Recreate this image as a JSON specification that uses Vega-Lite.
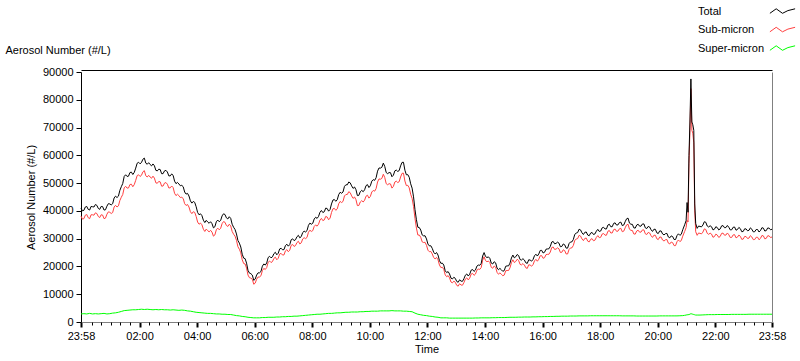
{
"$schema":"https://vega.github.io/schema/vega-lite/v6.json",
"width":691,"height":250,
"autosize":{"type":"none"},
"padding":{"left":81,"top":72,"right":28,"bottom":39},
"background":"white",
"config":{"view":{"stroke":null},"font":"Liberation Sans","axis":{"labelFont":"Liberation Sans","titleFont":"Liberation Sans","labelFontSize":11,"titleFontSize":11,"titleFontWeight":"normal","labelColor":"black","titleColor":"black","grid":false}},
"data":{"values":[
{"m":0,"t":41000,"s":38100,"p":2900},{"m":6,"t":40200,"s":37200,"p":3000},{"m":12,"t":41600,"s":38700,"p":2900},{"m":18,"t":40300,"s":37200,"p":3100},{"m":24,"t":41500,"s":38600,"p":2900},{"m":30,"t":42300,"s":39300,"p":3000},{"m":36,"t":40900,"s":38000,"p":2900},{"m":42,"t":41600,"s":38600,"p":3000},{"m":48,"t":40300,"s":37200,"p":3100},{"m":54,"t":41700,"s":38800,"p":2900},
{"m":60,"t":42500,"s":39500,"p":3000},{"m":66,"t":42600,"s":39400,"p":3200},{"m":72,"t":45300,"s":42000,"p":3300},{"m":78,"t":45300,"s":41800,"p":3500},{"m":84,"t":48700,"s":44900,"p":3800},{"m":90,"t":52400,"s":48300,"p":4100},{"m":96,"t":52400,"s":48200,"p":4200},{"m":102,"t":53800,"s":49500,"p":4300},{"m":108,"t":53100,"s":48700,"p":4400},{"m":114,"t":55400,"s":51000,"p":4400},
{"m":120,"t":57500,"s":53000,"p":4500},{"m":126,"t":57400,"s":52800,"p":4600},{"m":132,"t":59000,"s":54500,"p":4500},{"m":138,"t":56800,"s":52200,"p":4600},{"m":144,"t":56700,"s":52200,"p":4500},{"m":150,"t":56900,"s":52500,"p":4400},{"m":156,"t":54600,"s":50100,"p":4500},{"m":162,"t":55000,"s":50600,"p":4400},{"m":168,"t":53400,"s":48900,"p":4500},{"m":174,"t":54400,"s":50000,"p":4400},
{"m":180,"t":54000,"s":49600,"p":4400},{"m":186,"t":52600,"s":48300,"p":4300},{"m":192,"t":52800,"s":48400,"p":4400},{"m":198,"t":49800,"s":45500,"p":4300},{"m":204,"t":49700,"s":45500,"p":4200},{"m":210,"t":49200,"s":44900,"p":4300},{"m":216,"t":46800,"s":42600,"p":4200},{"m":222,"t":46300,"s":42300,"p":4000},{"m":228,"t":43600,"s":39700,"p":3900},{"m":234,"t":43400,"s":39700,"p":3700},
{"m":240,"t":41500,"s":38000,"p":3500},{"m":246,"t":38600,"s":35200,"p":3400},{"m":252,"t":38300,"s":35000,"p":3300},{"m":258,"t":35800,"s":32600,"p":3200},{"m":264,"t":36000,"s":32900,"p":3100},{"m":270,"t":36100,"s":33000,"p":3100},{"m":276,"t":33900,"s":30900,"p":3000},{"m":282,"t":36100,"s":33200,"p":2900},{"m":288,"t":36100,"s":33200,"p":2900},{"m":294,"t":38200,"s":35400,"p":2800},
{"m":300,"t":38700,"s":35900,"p":2800},{"m":306,"t":37100,"s":34400,"p":2700},{"m":312,"t":37300,"s":34600,"p":2700},{"m":318,"t":34100,"s":31600,"p":2500},{"m":324,"t":31700,"s":29400,"p":2300},{"m":330,"t":28400,"s":26200,"p":2200},{"m":336,"t":24400,"s":22400,"p":2000},{"m":342,"t":22800,"s":20900,"p":1900},{"m":348,"t":18600,"s":16900,"p":1700},{"m":354,"t":17400,"s":15800,"p":1600},
{"m":360,"t":15000,"s":13600,"p":1500},{"m":366,"t":16900,"s":15400,"p":1500},{"m":372,"t":17700,"s":16200,"p":1500},{"m":378,"t":20100,"s":18500,"p":1600},{"m":384,"t":20500,"s":18900,"p":1600},{"m":390,"t":23200,"s":21500,"p":1700},{"m":396,"t":23100,"s":21400,"p":1700},{"m":402,"t":24600,"s":22900,"p":1700},{"m":408,"t":24200,"s":22400,"p":1800},{"m":414,"t":26300,"s":24500,"p":1800},
{"m":420,"t":26000,"s":24100,"p":1900},{"m":426,"t":27500,"s":25600,"p":1900},{"m":432,"t":27300,"s":25300,"p":2000},{"m":438,"t":29600,"s":27600,"p":2000},{"m":444,"t":29300,"s":27200,"p":2100},{"m":450,"t":30700,"s":28600,"p":2100},{"m":456,"t":30300,"s":28100,"p":2200},{"m":462,"t":32200,"s":29900,"p":2300},{"m":468,"t":32400,"s":30000,"p":2400},{"m":474,"t":34800,"s":32300,"p":2500},
{"m":480,"t":35200,"s":32600,"p":2600},{"m":486,"t":37100,"s":34400,"p":2700},{"m":492,"t":37300,"s":34500,"p":2800},{"m":498,"t":39500,"s":36700,"p":2800},{"m":504,"t":39400,"s":36500,"p":2900},{"m":510,"t":41000,"s":38000,"p":3000},{"m":516,"t":39900,"s":36800,"p":3100},{"m":522,"t":42500,"s":39400,"p":3100},{"m":528,"t":44100,"s":40900,"p":3200},{"m":534,"t":44000,"s":40700,"p":3300},
{"m":540,"t":46700,"s":43400,"p":3300},{"m":546,"t":46800,"s":43400,"p":3400},{"m":552,"t":49400,"s":45900,"p":3500},{"m":558,"t":50400,"s":46900,"p":3500},{"m":564,"t":49000,"s":45400,"p":3600},{"m":570,"t":48600,"s":45000,"p":3600},{"m":576,"t":45500,"s":41900,"p":3600},{"m":582,"t":46900,"s":43200,"p":3700},{"m":588,"t":46900,"s":43200,"p":3700},{"m":594,"t":49100,"s":45300,"p":3800},
{"m":600,"t":48400,"s":44600,"p":3800},{"m":606,"t":50700,"s":46800,"p":3900},{"m":612,"t":51000,"s":47100,"p":3900},{"m":618,"t":54300,"s":50400,"p":3900},{"m":624,"t":55400,"s":51400,"p":4000},{"m":630,"t":57200,"s":53200,"p":4000},{"m":636,"t":53800,"s":49800,"p":4000},{"m":642,"t":53800,"s":49800,"p":4000},{"m":648,"t":52300,"s":48200,"p":4100},{"m":654,"t":54400,"s":50400,"p":4000},
{"m":660,"t":54200,"s":50200,"p":4000},{"m":666,"t":56200,"s":52200,"p":4000},{"m":672,"t":57500,"s":53600,"p":3900},{"m":678,"t":53000,"s":49100,"p":3900},{"m":684,"t":52100,"s":48300,"p":3800},{"m":690,"t":48200,"s":44500,"p":3700},{"m":696,"t":40500,"s":37300,"p":3200},{"m":702,"t":34100,"s":31300,"p":2800},{"m":708,"t":33100,"s":30500,"p":2600},{"m":714,"t":31000,"s":28600,"p":2400},
{"m":720,"t":29900,"s":27600,"p":2300},{"m":726,"t":27400,"s":25300,"p":2100},{"m":732,"t":26500,"s":24500,"p":2000},{"m":738,"t":24500,"s":22700,"p":1800},{"m":744,"t":24100,"s":22400,"p":1700},{"m":750,"t":21100,"s":19600,"p":1500},{"m":756,"t":20500,"s":19000,"p":1500},{"m":762,"t":17800,"s":16300,"p":1500},{"m":768,"t":17300,"s":15900,"p":1400},{"m":774,"t":15500,"s":14100,"p":1400},
{"m":780,"t":15700,"s":14300,"p":1400},{"m":786,"t":14300,"s":12900,"p":1400},{"m":792,"t":14700,"s":13300,"p":1400},{"m":798,"t":15600,"s":14200,"p":1400},{"m":804,"t":17300,"s":15900,"p":1400},{"m":810,"t":17200,"s":15800,"p":1400},{"m":816,"t":18900,"s":17500,"p":1400},{"m":822,"t":18700,"s":17250,"p":1450},{"m":828,"t":20500,"s":19050,"p":1450},{"m":834,"t":21100,"s":19600,"p":1500},
{"m":840,"t":25000,"s":23500,"p":1500},{"m":846,"t":23200,"s":21700,"p":1500},{"m":852,"t":22900,"s":21400,"p":1500},{"m":858,"t":20900,"s":19350,"p":1550},{"m":864,"t":21300,"s":19750,"p":1550},{"m":870,"t":18800,"s":17200,"p":1600},{"m":876,"t":18800,"s":17200,"p":1600},{"m":882,"t":18500,"s":16900,"p":1600},{"m":888,"t":20200,"s":18550,"p":1650},{"m":894,"t":21200,"s":19500,"p":1700},
{"m":900,"t":24100,"s":22400,"p":1700},{"m":906,"t":23500,"s":21800,"p":1700},{"m":912,"t":23900,"s":22150,"p":1750},{"m":918,"t":22300,"s":20550,"p":1750},{"m":924,"t":22300,"s":20500,"p":1800},{"m":930,"t":21100,"s":19300,"p":1800},{"m":936,"t":22300,"s":20500,"p":1800},{"m":942,"t":22500,"s":20650,"p":1850},{"m":948,"t":24400,"s":22550,"p":1850},{"m":954,"t":24500,"s":22600,"p":1900},
{"m":960,"t":25800,"s":23900,"p":1900},{"m":966,"t":25100,"s":23150,"p":1950},{"m":972,"t":26300,"s":24350,"p":1950},{"m":978,"t":27200,"s":25200,"p":2000},{"m":984,"t":29000,"s":27000,"p":2000},{"m":990,"t":28300,"s":26250,"p":2050},{"m":996,"t":28400,"s":26350,"p":2050},{"m":1002,"t":27200,"s":25100,"p":2100},{"m":1008,"t":27800,"s":25700,"p":2100},{"m":1014,"t":26600,"s":24500,"p":2100},
{"m":1020,"t":28800,"s":26650,"p":2150},{"m":1026,"t":29700,"s":27550,"p":2150},{"m":1032,"t":32000,"s":29850,"p":2150},{"m":1038,"t":33400,"s":31200,"p":2200},{"m":1044,"t":32100,"s":29900,"p":2200},{"m":1050,"t":32300,"s":30100,"p":2200},{"m":1056,"t":31300,"s":29100,"p":2200},{"m":1062,"t":32000,"s":29750,"p":2250},{"m":1068,"t":31500,"s":29250,"p":2250},{"m":1074,"t":32700,"s":30450,"p":2250},
{"m":1080,"t":32600,"s":30350,"p":2250},{"m":1086,"t":33900,"s":31650,"p":2250},{"m":1092,"t":33500,"s":31250,"p":2250},{"m":1098,"t":34900,"s":32650,"p":2250},{"m":1104,"t":34300,"s":32050,"p":2250},{"m":1110,"t":35500,"s":33250,"p":2250},{"m":1116,"t":34900,"s":32650,"p":2250},{"m":1122,"t":35800,"s":33550,"p":2250},{"m":1128,"t":34700,"s":32500,"p":2200},{"m":1134,"t":36100,"s":33900,"p":2200},
{"m":1140,"t":37400,"s":35200,"p":2200},{"m":1146,"t":35200,"s":33000,"p":2200},{"m":1152,"t":33900,"s":31700,"p":2200},{"m":1158,"t":34900,"s":32750,"p":2150},{"m":1164,"t":34500,"s":32350,"p":2150},{"m":1170,"t":35300,"s":33150,"p":2150},{"m":1176,"t":33900,"s":31750,"p":2150},{"m":1182,"t":34400,"s":32250,"p":2150},{"m":1188,"t":33200,"s":31050,"p":2150},{"m":1194,"t":33400,"s":31250,"p":2150},
{"m":1200,"t":32100,"s":29950,"p":2150},{"m":1206,"t":32800,"s":30600,"p":2200},{"m":1212,"t":31700,"s":29500,"p":2200},{"m":1218,"t":31800,"s":29600,"p":2200},{"m":1224,"t":30600,"s":28400,"p":2200},{"m":1230,"t":31000,"s":28800,"p":2200},{"m":1236,"t":29700,"s":27500,"p":2200},{"m":1242,"t":31100,"s":28900,"p":2200},{"m":1248,"t":31200,"s":28950,"p":2250},{"m":1254,"t":33200,"s":30900,"p":2300},
{"m":1258,"t":35000,"s":32600,"p":2400},{"m":1261,"t":36500,"s":34000,"p":2500},{"m":1263,"t":43000,"s":36600,"p":2600},{"m":1265,"t":39500,"s":36000,"p":2600},{"m":1267,"t":60000,"s":57000,"p":2700},{"m":1269,"t":72000,"s":69000,"p":2800},{"m":1271,"t":87500,"s":84000,"p":3000},{"m":1273,"t":72000,"s":69000,"p":2900},{"m":1275,"t":71000,"s":68000,"p":2800},{"m":1277,"t":69000,"s":64500,"p":2700},{"m":1279,"t":42500,"s":40000,"p":2600},{"m":1281,"t":35500,"s":32500,"p":2500},{"m":1284,"t":33700,"s":31200,"p":2500},
{"m":1290,"t":34400,"s":31900,"p":2500},{"m":1296,"t":34900,"s":32350,"p":2550},{"m":1302,"t":35900,"s":33300,"p":2600},{"m":1308,"t":34200,"s":31550,"p":2650},{"m":1314,"t":34300,"s":31650,"p":2650},{"m":1320,"t":33400,"s":30750,"p":2650},{"m":1326,"t":34000,"s":31300,"p":2700},{"m":1332,"t":33500,"s":30800,"p":2700},{"m":1338,"t":34700,"s":32000,"p":2700},{"m":1344,"t":34000,"s":31300,"p":2700},
{"m":1350,"t":34100,"s":31400,"p":2700},{"m":1356,"t":33200,"s":30450,"p":2750},{"m":1362,"t":34200,"s":31450,"p":2750},{"m":1368,"t":33300,"s":30550,"p":2750},{"m":1374,"t":33600,"s":30850,"p":2750},{"m":1380,"t":32600,"s":29850,"p":2750},{"m":1386,"t":33500,"s":30750,"p":2750},{"m":1392,"t":33000,"s":30200,"p":2800},{"m":1398,"t":33400,"s":30600,"p":2800},{"m":1404,"t":32500,"s":29700,"p":2800},
{"m":1410,"t":33300,"s":30500,"p":2800},{"m":1416,"t":32900,"s":30100,"p":2800},{"m":1422,"t":33800,"s":31000,"p":2800},{"m":1428,"t":32900,"s":30100,"p":2800},{"m":1434,"t":33800,"s":31000,"p":2800},{"m":1440,"t":33400,"s":30600,"p":2800},
{"m":3,"t":40000,"s":37050},{"m":9,"t":41400,"s":38450},{"m":15,"t":40550,"s":37550},{"m":21,"t":41600,"s":38600},{"m":27,"t":41400,"s":38450},{"m":33,"t":42000,"s":39050},{"m":39,"t":40550,"s":37600},{"m":45,"t":41550,"s":38500},{"m":51,"t":40400,"s":37400},{"m":57,"t":42600,"s":39650},
{"m":63,"t":42150,"s":39050},{"m":69,"t":44650,"s":41400},{"m":75,"t":44800,"s":41400},{"m":81,"t":47400,"s":43750},{"m":87,"t":49850,"s":45900},{"m":93,"t":53000,"s":48850},{"m":99,"t":52500,"s":48250},{"m":105,"t":53950,"s":49600},{"m":111,"t":53850,"s":49450},{"m":117,"t":57150,"s":52700},
{"m":123,"t":56950,"s":52400},{"m":129,"t":58600,"s":54050},{"m":135,"t":57200,"s":52650},{"m":141,"t":57350,"s":52800},{"m":147,"t":56200,"s":51750},{"m":153,"t":56250,"s":51800},{"m":159,"t":54400,"s":49950},{"m":165,"t":54900,"s":50450},{"m":171,"t":53400,"s":48950},{"m":177,"t":54600,"s":50200},
{"m":183,"t":52600,"s":48250},{"m":189,"t":53300,"s":48950},{"m":195,"t":50700,"s":46350},{"m":201,"t":50250,"s":46000},{"m":207,"t":49050,"s":44800},{"m":213,"t":48700,"s":44450},{"m":219,"t":46050,"s":41950},{"m":225,"t":45350,"s":41400},{"m":231,"t":42800,"s":39000},{"m":237,"t":43050,"s":39450},
{"m":243,"t":39450,"s":36000},{"m":249,"t":38950,"s":35600},{"m":255,"t":36650,"s":33400},{"m":261,"t":36600,"s":33450},{"m":267,"t":35550,"s":32450},{"m":273,"t":35400,"s":32350},{"m":279,"t":34300,"s":31350},{"m":285,"t":36700,"s":33800},{"m":291,"t":36550,"s":33700},{"m":297,"t":38950,"s":36150},
{"m":303,"t":37500,"s":34750},{"m":309,"t":37900,"s":35200},{"m":315,"t":35200,"s":32600},{"m":321,"t":33300,"s":30900},{"m":327,"t":29350,"s":27100},{"m":333,"t":27000,"s":24900},{"m":339,"t":23000,"s":21050},{"m":345,"t":21200,"s":19400},{"m":351,"t":17600,"s":15950},{"m":357,"t":16900,"s":15400},
{"m":363,"t":15450,"s":14000},{"m":369,"t":17700,"s":16200},{"m":375,"t":18200,"s":16650},{"m":381,"t":20900,"s":19300},{"m":387,"t":21250,"s":19600},{"m":393,"t":23650,"s":21950},{"m":399,"t":23450,"s":21750},{"m":405,"t":25100,"s":23350},{"m":411,"t":24750,"s":22950},{"m":417,"t":26550,"s":24700},
{"m":423,"t":26050,"s":24150},{"m":429,"t":28000,"s":26050},{"m":435,"t":27850,"s":25850},{"m":441,"t":29950,"s":27900},{"m":447,"t":29600,"s":27500},{"m":453,"t":31200,"s":29050},{"m":459,"t":30750,"s":28500},{"m":465,"t":32700,"s":30350},{"m":471,"t":32900,"s":30450},{"m":477,"t":35600,"s":33050},
{"m":483,"t":35550,"s":32900},{"m":489,"t":37700,"s":34950},{"m":495,"t":38000,"s":35200},{"m":501,"t":40150,"s":37300},{"m":507,"t":39700,"s":36750},{"m":513,"t":40850,"s":37800},{"m":519,"t":40500,"s":37400},{"m":525,"t":43900,"s":40750},{"m":531,"t":43450,"s":40200},{"m":537,"t":45850,"s":42550},
{"m":543,"t":46350,"s":43000},{"m":549,"t":48800,"s":45350},{"m":555,"t":49400,"s":45900},{"m":561,"t":50100,"s":46550},{"m":567,"t":48100,"s":44500},{"m":573,"t":47650,"s":44050},{"m":579,"t":45600,"s":41950},{"m":585,"t":47400,"s":43700},{"m":591,"t":47600,"s":43850},{"m":597,"t":49450,"s":45650},
{"m":603,"t":49050,"s":45200},{"m":609,"t":51250,"s":47350},{"m":615,"t":51950,"s":48050},{"m":621,"t":55450,"s":51500},{"m":627,"t":55700,"s":51700},{"m":633,"t":56000,"s":52000},{"m":639,"t":53400,"s":49400},{"m":645,"t":53750,"s":49700},{"m":651,"t":52850,"s":48800},{"m":657,"t":54700,"s":50700},
{"m":663,"t":54500,"s":50500},{"m":669,"t":57450,"s":53500},{"m":675,"t":54650,"s":50750},{"m":681,"t":53050,"s":49200},{"m":687,"t":49750,"s":46000},{"m":693,"t":45050,"s":41600},{"m":699,"t":36800,"s":33800},{"m":705,"t":34000,"s":31300},{"m":711,"t":31350,"s":28850},{"m":717,"t":31050,"s":28700},
{"m":723,"t":28050,"s":25850},{"m":729,"t":27450,"s":25400},{"m":735,"t":25100,"s":23200},{"m":741,"t":25000,"s":23250},{"m":747,"t":22100,"s":20500},{"m":753,"t":21200,"s":19700},{"m":759,"t":18450,"s":16950},{"m":765,"t":18150,"s":16700},{"m":771,"t":15800,"s":14400},{"m":777,"t":16100,"s":14700},
{"m":783,"t":14600,"s":13200},{"m":789,"t":15200,"s":13800},{"m":795,"t":14650,"s":13250},{"m":801,"t":16850,"s":15450},{"m":807,"t":16550,"s":15150},{"m":813,"t":18650,"s":17250},{"m":819,"t":18200,"s":16780},{"m":825,"t":20100,"s":18650},{"m":831,"t":20400,"s":18930},{"m":837,"t":23750,"s":22250},
{"m":843,"t":23600,"s":22100},{"m":849,"t":23450,"s":21950},{"m":855,"t":21200,"s":19680},{"m":861,"t":21700,"s":20150},{"m":867,"t":19450,"s":17880},{"m":873,"t":19300,"s":17700},{"m":879,"t":18250,"s":16650},{"m":885,"t":20050,"s":18430},{"m":891,"t":20200,"s":18530},{"m":897,"t":23050,"s":21350},
{"m":903,"t":23100,"s":21400},{"m":909,"t":24300,"s":22580},{"m":915,"t":22500,"s":20750},{"m":921,"t":22800,"s":21030},{"m":927,"t":21300,"s":19500},{"m":933,"t":22400,"s":20600},{"m":939,"t":21900,"s":20080},{"m":945,"t":23850,"s":22000},{"m":951,"t":23750,"s":21880},{"m":957,"t":25750,"s":23850},
{"m":963,"t":24850,"s":22930},{"m":969,"t":26200,"s":24250},{"m":975,"t":26350,"s":24380},{"m":981,"t":28800,"s":26800},{"m":987,"t":28150,"s":26130},{"m":993,"t":28750,"s":26700},{"m":999,"t":27100,"s":25030},{"m":1005,"t":28100,"s":26000},{"m":1011,"t":26600,"s":24500},{"m":1017,"t":28200,"s":26080},
{"m":1023,"t":28850,"s":26700},{"m":1029,"t":31550,"s":29400},{"m":1035,"t":32200,"s":30030},{"m":1041,"t":33150,"s":30950},{"m":1047,"t":31500,"s":29300},{"m":1053,"t":32400,"s":30200},{"m":1059,"t":31050,"s":28830},{"m":1065,"t":32250,"s":30000},{"m":1071,"t":31700,"s":29450},{"m":1077,"t":33350,"s":31100},
{"m":1083,"t":32750,"s":30500},{"m":1089,"t":34100,"s":31850},{"m":1095,"t":33500,"s":31250},{"m":1101,"t":35200,"s":32950},{"m":1107,"t":34300,"s":32050},{"m":1113,"t":35700,"s":33450},{"m":1119,"t":34950,"s":32700},{"m":1125,"t":35950,"s":33730},{"m":1131,"t":34900,"s":32700},{"m":1137,"t":37150,"s":34950},
{"m":1143,"t":35600,"s":33400},{"m":1149,"t":35150,"s":32950},{"m":1155,"t":33800,"s":31630},{"m":1161,"t":35200,"s":33050},{"m":1167,"t":34500,"s":32350},{"m":1173,"t":35300,"s":33150},{"m":1179,"t":33650,"s":31500},{"m":1185,"t":34200,"s":32050},{"m":1191,"t":32600,"s":30450},{"m":1197,"t":33350,"s":31200},
{"m":1203,"t":31850,"s":29680},{"m":1209,"t":32750,"s":30550},{"m":1215,"t":31350,"s":29150},{"m":1221,"t":31900,"s":29700},{"m":1227,"t":30300,"s":28100},{"m":1233,"t":30750,"s":28550},{"m":1239,"t":29700,"s":27500},{"m":1245,"t":31750,"s":29530},{"m":1251,"t":31600,"s":29330},
{"m":1287,"t":34550,"s":32050},{"m":1293,"t":34250,"s":31730},{"m":1299,"t":36100,"s":33530},{"m":1305,"t":34550,"s":31930},{"m":1311,"t":34650,"s":32000},{"m":1317,"t":33150,"s":30500},{"m":1323,"t":34300,"s":31630},{"m":1329,"t":33150,"s":30450},{"m":1335,"t":34600,"s":31900},{"m":1341,"t":33950,"s":31250},
{"m":1347,"t":34750,"s":32050},{"m":1353,"t":33150,"s":30430},{"m":1359,"t":34100,"s":31350},{"m":1365,"t":33050,"s":30300},{"m":1371,"t":34050,"s":31300},{"m":1377,"t":32500,"s":29750},{"m":1383,"t":33550,"s":30800},{"m":1389,"t":32850,"s":30080},{"m":1395,"t":33900,"s":31100},{"m":1401,"t":32450,"s":29650},
{"m":1407,"t":33300,"s":30500},{"m":1413,"t":32400,"s":29600},{"m":1419,"t":33950,"s":31150},{"m":1425,"t":32750,"s":29950},{"m":1431,"t":33850,"s":31050},{"m":1437,"t":33200,"s":30400}
]},
"transform":[{"fold":["p","s","t"],"as":["series","n"]}],
"layer":[
{"mark":{"type":"line","strokeWidth":1,"interpolate":"linear","invalid":"filter"},
 "encoding":{
  "x":{"field":"m","type":"quantitative","scale":{"domain":[0,1440],"nice":false,"zero":false},
   "axis":{"orient":"bottom","values":[0,122,242,362,482,602,722,842,962,1082,1202,1322,1440],"labelExpr":"timeFormat(datetime(2024,0,1,23,58+datum.value),'%H:%M')","title":"Time","tickSize":5,"tickWidth":2,"tickColor":"black","domainColor":"#808080","domainWidth":1,"labelFlush":false,"labelPadding":3,"titlePadding":2,"labelOverlap":false}},
  "y":{"field":"n","type":"quantitative","scale":{"domain":[0,90000],"nice":false},
   "axis":{"orient":"left","values":[0,10000,20000,30000,40000,50000,60000,70000,80000,90000],"format":"d","title":"Aerosol Number (#/L)","tickSize":5,"tickColor":"black","domainColor":"black","labelPadding":3,"titlePadding":6}},
  "color":{"field":"series","type":"nominal","scale":{"domain":["t","s","p"],"range":["#000000","#ff4040","#00ff00"]},
   "legend":{"orient":"none","legendX":692,"legendY":-70,"title":null,"symbolType":"M-1.4,0.2L-0.7,-0.3L0,0.2L0.6,-0.1L1.4,-0.3","symbolSize":324,"symbolStrokeWidth":1,"labelExpr":"datum.label=='t'?'Total':datum.label=='s'?'Sub-micron':'Super-micron'","labelAlign":"left","labelOffset":-94,"labelFontSize":11,"labelFont":"Liberation Sans","labelColor":"black","rowPadding":3.5,"padding":0}}
 }},
{"mark":{"type":"line","opacity":0,"invalid":"filter"},
 "encoding":{
  "x":{"field":"m","type":"quantitative","axis":{"orient":"bottom","values":[22,42,62,82,102,142,162,182,202,222,262,282,302,322,342,382,402,422,442,462,502,522,542,562,582,622,642,662,682,702,742,762,782,802,822,862,882,902,922,942,982,1002,1022,1042,1062,1102,1122,1142,1162,1182,1222,1242,1262,1282,1302,1342,1362,1382,1402,1422],"labels":false,"domain":false,"title":null,"tickSize":3,"tickWidth":1,"tickColor":"black"}},
  "y":{"field":"n","type":"quantitative","axis":null}
 }},
{"mark":{"type":"line","opacity":0,"invalid":"filter"},
 "encoding":{
  "x":{"field":"m","type":"quantitative","axis":{"orient":"top","offset":2,"labels":false,"ticks":false,"domainColor":"black","title":"Aerosol Number (#/L)","titleX":-76,"titleY":-17,"titleAngle":0,"titleAlign":"left","titleBaseline":"alphabetic"}},
  "y":{"field":"n","type":"quantitative","axis":{"orient":"right","labels":false,"ticks":false,"title":null,"domainColor":"#808080"}}
 }}
],
"resolve":{"axis":{"x":"independent","y":"independent"}}
}
